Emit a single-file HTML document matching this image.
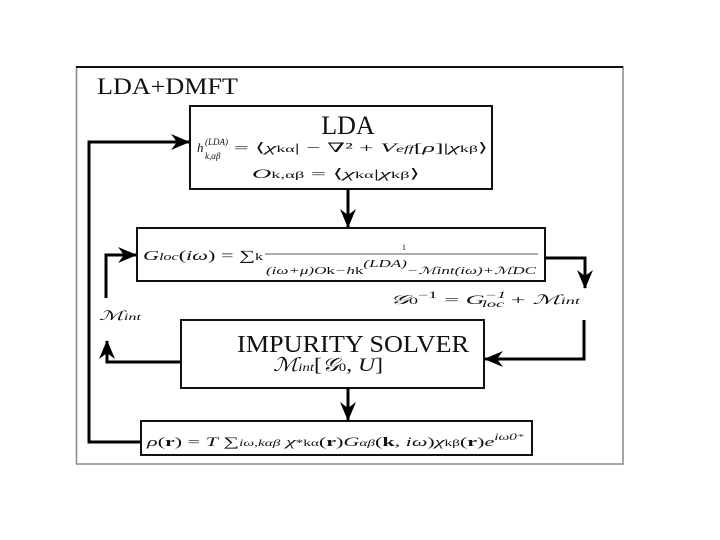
<!DOCTYPE html>
<html><head><meta charset="utf-8"><style>
html,body{margin:0;padding:0;background:#fff;}
svg{display:block;}
text{font-family:"Liberation Serif","DejaVu Serif",serif;fill:#111;}
.i{font-style:italic;}
</style></head><body>
<svg width="720" height="540" viewBox="0 0 720 540" xmlns="http://www.w3.org/2000/svg">
<defs>
<marker id="b" markerWidth="20" markerHeight="16" refX="18" refY="8" orient="auto" markerUnits="userSpaceOnUse">
<path d="M0,0 L19,8 L0,16 L6,8 Z" fill="#000"/>
</marker>
</defs>
<!-- frame -->
<rect x="76.5" y="67" width="546.5" height="397" fill="none" stroke="#888" stroke-width="1.5"/>
<line x1="76" y1="67" x2="623" y2="67" stroke="#111" stroke-width="2"/>
<text x="97" y="94" font-size="23" textLength="141" lengthAdjust="spacingAndGlyphs">LDA+DMFT</text>

<!-- LDA box -->
<rect x="190" y="106" width="302" height="83" fill="#fff" stroke="#111" stroke-width="2"/>
<text x="348" y="134" font-size="26" text-anchor="middle">LDA</text>
<text x="197" y="152" font-size="13" class="i">h</text>
<text x="205" y="145" font-size="9" class="i">(LDA)</text>
<text x="205" y="159" font-size="9" class="i">k,αβ</text>
<text x="234" y="152" font-size="13" textLength="254" lengthAdjust="spacingAndGlyphs">= ⟨<tspan class="i">χ</tspan><tspan font-size="9">kα</tspan>| − ∇² + <tspan class="i">V</tspan><tspan font-size="9" class="i">eff</tspan>[<tspan class="i">ρ</tspan>]|<tspan class="i">χ</tspan><tspan font-size="9">kβ</tspan>⟩</text>
<text x="252" y="178" font-size="13" textLength="168" lengthAdjust="spacingAndGlyphs"><tspan class="i">O</tspan><tspan font-size="9">k,αβ</tspan> = ⟨<tspan class="i">χ</tspan><tspan font-size="9">kα</tspan>|<tspan class="i">χ</tspan><tspan font-size="9">kβ</tspan>⟩</text>

<!-- G box -->
<rect x="137" y="228" width="408" height="53" fill="#fff" stroke="#111" stroke-width="2"/>
<text x="143" y="260" font-size="14" textLength="120" lengthAdjust="spacingAndGlyphs"><tspan class="i">G</tspan><tspan font-size="10" class="i">loc</tspan>(<tspan class="i">iω</tspan>) = ∑<tspan font-size="10">k</tspan></text>
<line x1="265" y1="254" x2="538" y2="254" stroke="#222" stroke-width="0.8"/>
<text x="404" y="250" font-size="8" text-anchor="middle">1</text>
<text x="266" y="274" font-size="10" class="i" textLength="270" lengthAdjust="spacingAndGlyphs">(iω+μ)O<tspan font-style="normal">k</tspan>−h<tspan font-style="normal">k</tspan><tspan dy="-7">(LDA)</tspan><tspan dy="7">−ℳ</tspan>int(iω)+ℳDC</text>

<!-- G0 label -->
<text x="390" y="304" font-size="13" textLength="190" lengthAdjust="spacingAndGlyphs"><tspan class="i">𝒢</tspan><tspan font-size="9">0</tspan><tspan font-size="9" dy="-6">−1</tspan><tspan dy="6"> = </tspan><tspan class="i">G</tspan><tspan font-size="9" class="i" dy="-6">−1</tspan><tspan font-size="9" class="i" dx="-12" dy="9">loc</tspan><tspan dy="-3"> + </tspan><tspan class="i">ℳ</tspan><tspan font-size="9" class="i">int</tspan></text>
<!-- Mint label -->
<text x="99" y="320" font-size="13" class="i" textLength="42" lengthAdjust="spacingAndGlyphs">ℳ<tspan font-size="9">int</tspan></text>

<!-- Impurity box -->
<rect x="181" y="320" width="303" height="68" fill="#fff" stroke="#111" stroke-width="2"/>
<text x="237" y="352" font-size="24" textLength="232" lengthAdjust="spacingAndGlyphs">IMPURITY SOLVER</text>
<text x="273" y="371" font-size="19" textLength="110" lengthAdjust="spacingAndGlyphs"><tspan class="i">ℳ</tspan><tspan font-size="12" class="i">int</tspan>[<tspan class="i">𝒢</tspan><tspan font-size="12">0</tspan>, <tspan class="i">U</tspan>]</text>

<!-- rho box -->
<rect x="141" y="421" width="391" height="34" fill="#fff" stroke="#111" stroke-width="2"/>
<text x="147" y="446" font-size="13" textLength="378" lengthAdjust="spacingAndGlyphs"><tspan class="i">ρ</tspan>(<tspan font-weight="bold">r</tspan>) = <tspan class="i">T</tspan> ∑<tspan font-size="9" class="i">iω,kαβ</tspan> <tspan class="i">χ</tspan><tspan font-size="9">*kα</tspan>(<tspan font-weight="bold">r</tspan>)<tspan class="i">G</tspan><tspan font-size="9" class="i">αβ</tspan>(<tspan font-weight="bold">k</tspan>, <tspan class="i">iω</tspan>)<tspan class="i">χ</tspan><tspan font-size="9">kβ</tspan>(<tspan font-weight="bold">r</tspan>)<tspan class="i">e</tspan><tspan font-size="9" class="i" dy="-6">iω0⁺</tspan></text>

<!-- connectors -->
<g fill="none" stroke="#000" stroke-width="3">
<line x1="348" y1="189" x2="348" y2="227" marker-end="url(#b)"/>
<line x1="348" y1="388" x2="348" y2="420" marker-end="url(#b)"/>
<polyline points="545,258 585,258 585,288" marker-end="url(#b)"/>
<polyline points="584,320 584,359 485,359" marker-end="url(#b)"/>
<polyline points="181,362 107,362 107,341" marker-end="url(#b)"/>
<polyline points="106,298 106,255 136,255" marker-end="url(#b)"/>
<polyline points="141,442 89,442 89,142 189,142" marker-end="url(#b)"/>
</g>
</svg>
</body></html>
